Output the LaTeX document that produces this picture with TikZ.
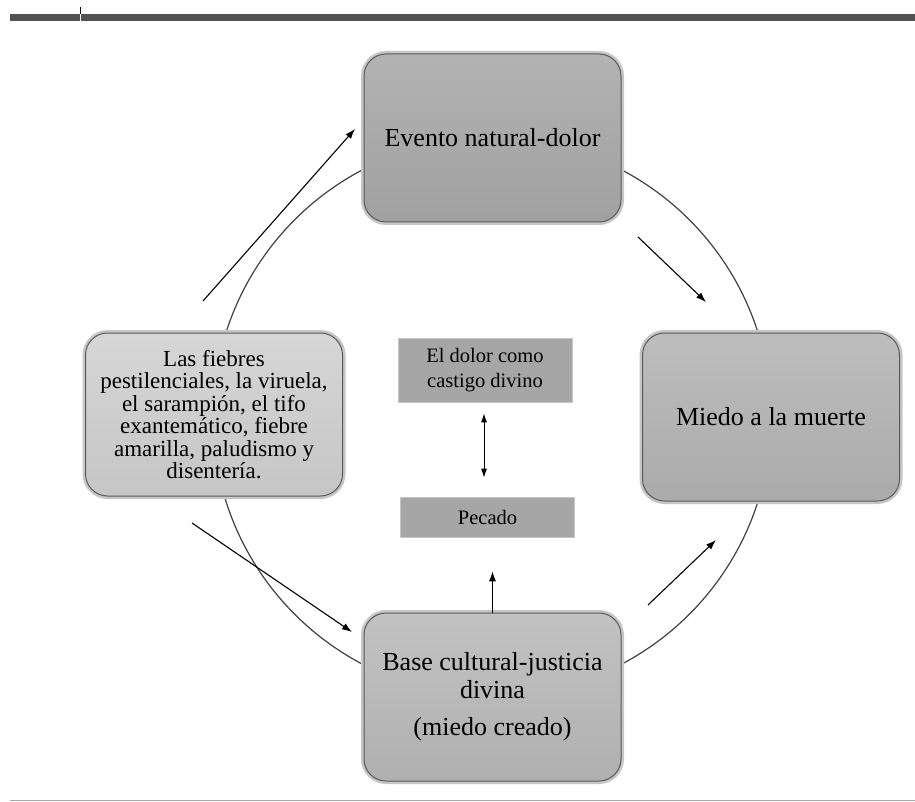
\documentclass[tikz,border=0pt]{standalone}
\usepackage{fontspec}
\setmainfont{Liberation Serif}
\usetikzlibrary{arrows.meta}
\usetikzlibrary{positioning}

\tikzset{
    stagebox/.style={draw=gray!70!black, line width=1pt, rounded corners=22pt,
        inner sep=0pt, align=center, minimum width=257pt, minimum height=168pt,
        preaction={draw=gray!45, line width=6pt}},
    notebox/.style={fill=gray!70, draw=gray!45, line width=0.6pt, inner sep=0pt,
        align=center, minimum width=174pt},
    cyclearrow/.style={-{Latex[length=10pt, width=7pt]}, line width=1.1pt}
}

\begin{document}
\begin{tikzpicture}[x=1pt, y=-1pt]
        \useasboundingbox (0, 0) rectangle (915, 802);

        % page rules
        \fill [black!68] (10, 14) rectangle (915, 21);
        \draw [white, line width=1pt] (80, 14) -- (80, 21);
        \draw [black, line width=1pt] (80, 7) -- (80, 14);
        \draw [gray!70, line width=1.5pt] (10, 800.5) -- (915, 800.5);

        \draw [black!75, line width=1.2pt] (492, 417) circle [radius=279];

        \node [stagebox, top color=gray!60, bottom color=gray!74, font=\fontsize{26}{30}\selectfont]
            (evento) at (492.5, 138) {Evento natural-dolor};
        \node [stagebox, top color=gray!32, bottom color=gray!45, minimum height=163pt,
            font=\fontsize{23}{22.5}\selectfont]
            (fiebres) at (214, 414.5) {Las fiebres\\ pestilenciales, la viruela,\\ el sarampión, el tifo\\ exantemático, fiebre\\ amarilla, paludismo y\\ disentería.};
        \node [stagebox, top color=gray!52, bottom color=gray!66, font=\fontsize{26}{30}\selectfont]
            (miedo) at (771, 417) {Miedo a la muerte};
        \node [stagebox, top color=gray!48, bottom color=gray!62, font=\fontsize{26}{28}\selectfont]
            (base) at (492.5, 697) {Base cultural-justicia\\ divina\\[9pt] (miedo creado)};

        \node [notebox, minimum height=64pt, font=\fontsize{20.5}{25}\selectfont]
            (castigo) at (485, 370) {El dolor como\\ castigo divino};
        \node [notebox, minimum height=40pt, font=\fontsize{20.5}{25}\selectfont]
            (pecado) at (487.5, 517) {Pecado};

        \draw [{Latex[length=9pt, width=6pt]}-{Latex[length=9pt, width=6pt]}, line width=1pt]
            ([xshift=-1pt, yshift=-11pt]castigo.south) -- ([xshift=-3.5pt, yshift=19pt]pecado.north);
        \draw [cyclearrow] (base.north) -- ([yshift=-34pt]pecado.south -| base.north);

        \coordinate (t1) at (203, 301);
        \coordinate (h1) at (355, 129);
        \coordinate (t2) at (638, 237);
        \coordinate (h2) at (706, 302);
        \coordinate (t3) at (648, 605);
        \coordinate (h3) at (716, 540);
        \coordinate (t4) at (192, 523);
        \coordinate (h4) at (352, 632);

        \draw [cyclearrow] (t1) -- (h1);
        \draw [cyclearrow] (t2) -- (h2);
        \draw [cyclearrow] (t3) -- (h3);
        \draw [cyclearrow] (t4) -- (h4);
    \end{tikzpicture}
\end{document}
